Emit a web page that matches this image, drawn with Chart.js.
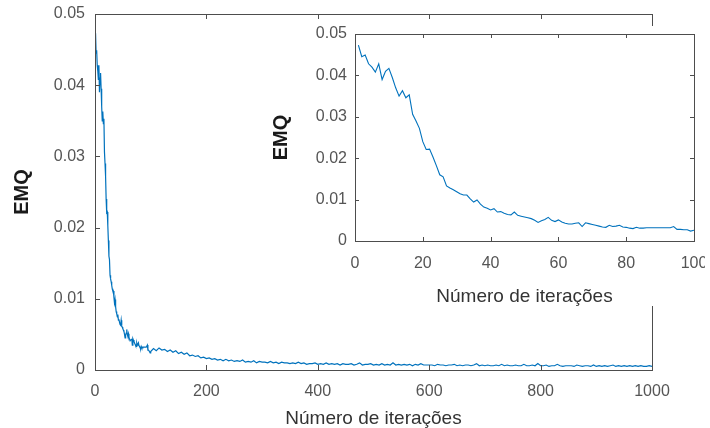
<!DOCTYPE html>
<html>
<head>
<meta charset="utf-8">
<title>EMQ</title>
<script src="https://cdn.jsdelivr.net/npm/chart.js@4.4.1/dist/chart.umd.min.js"></script>
<style>
  body { margin: 0; background: #fff; }
  #wrap { position: relative; width: 710px; height: 428px; overflow: hidden; }
  #mainChart { position: absolute; left: 0; top: 0; }
  #insetBox { position: absolute; left: 265px; top: 26px; width: 440px; height: 280px; background: #fff; }
</style>
</head>
<body>
<div id="wrap">
  <canvas id="mainChart" width="710" height="428"></canvas>
  <div id="insetBox"><canvas id="insetChart" width="440" height="280"></canvas></div>
</div>
<script>
// EMQ for iterations 1..100
const earlyMse = [
  0.0473, 0.0445, 0.0449, 0.0428, 0.0420, 0.0408, 0.0428, 0.0390, 0.0410, 0.0417,
  0.0395, 0.0370, 0.0350, 0.0363, 0.0346, 0.0353, 0.0306, 0.0290, 0.0272, 0.0240,
  0.0221, 0.0222, 0.0203, 0.0182, 0.0160, 0.0155, 0.0133, 0.0128, 0.0124, 0.0119,
  0.0114, 0.0111, 0.0111, 0.0102, 0.0094, 0.0099, 0.0089, 0.0082, 0.0079, 0.0075,
  0.0078, 0.0070, 0.0071, 0.0067, 0.0064, 0.0063, 0.0070, 0.0062, 0.0060, 0.0058,
  0.0056, 0.0054, 0.0050, 0.0045, 0.0049, 0.0052, 0.0057, 0.0050, 0.0047, 0.0051,
  0.0046, 0.0043, 0.0041, 0.0041, 0.0043, 0.0044, 0.0035, 0.0044, 0.0042, 0.0040,
  0.0038, 0.0036, 0.0034, 0.0033, 0.0038, 0.0035, 0.0036, 0.0038, 0.0034, 0.0033,
  0.0031, 0.0030, 0.0033, 0.0031, 0.0031, 0.0032, 0.0032, 0.0032, 0.0032, 0.0032,
  0.0032, 0.0032, 0.0032, 0.0035, 0.0028, 0.0028, 0.0027, 0.0027, 0.0024, 0.0026
];

// EMQ for iterations 105..1000, every 5 iterations
const tailMse = [
  0.0030, 0.0027, 0.0031, 0.0028, 0.0029, 0.0026, 0.0028, 0.0025, 0.0027, 0.0023,
  0.0025, 0.0022, 0.0024, 0.0020, 0.0021, 0.0019, 0.0020, 0.0017, 0.0018, 0.0016,
  0.0017, 0.0015, 0.0016, 0.0014, 0.0015, 0.0013, 0.0015, 0.0013, 0.0014, 0.0012,
  0.0013, 0.0012, 0.0014, 0.0011, 0.0012, 0.0011, 0.0013, 0.0010, 0.0012, 0.0011,
  0.0011, 0.0010, 0.0012, 0.0010, 0.0011, 0.0009, 0.0011, 0.0010, 0.0010, 0.0009,
  0.0010, 0.0009, 0.0011, 0.0009, 0.0010, 0.0008, 0.0009, 0.0009, 0.0010, 0.0008,
  0.0009, 0.0008, 0.0010, 0.0008, 0.0009, 0.0008, 0.0009, 0.0007, 0.0009, 0.0008,
  0.0008, 0.0009, 0.0007, 0.0008, 0.0010, 0.0007, 0.0008, 0.0008, 0.0009, 0.0007,
  0.0008, 0.0007, 0.0009, 0.0007, 0.0008, 0.0007, 0.0010, 0.0007, 0.0008, 0.0007,
  0.0008, 0.0007, 0.0008, 0.0006, 0.0008, 0.0007, 0.0009, 0.0007, 0.0007, 0.0007,
  0.0007, 0.0006, 0.0008, 0.0007, 0.0007, 0.0006, 0.0007, 0.0007, 0.0008, 0.0006,
  0.0007, 0.0006, 0.0007, 0.0007, 0.0006, 0.0007, 0.0009, 0.0006, 0.0007, 0.0006,
  0.0007, 0.0006, 0.0006, 0.0007, 0.0006, 0.0008, 0.0006, 0.0007, 0.0006, 0.0006,
  0.0007, 0.0006, 0.0006, 0.0008, 0.0006, 0.0006, 0.0007, 0.0006, 0.0009, 0.0006,
  0.0006, 0.0007, 0.0005, 0.0006, 0.0006, 0.0008, 0.0006, 0.0005, 0.0006, 0.0006,
  0.0006, 0.0005, 0.0007, 0.0006, 0.0005, 0.0006, 0.0006, 0.0005, 0.0007, 0.0005,
  0.0006, 0.0005, 0.0006, 0.0005, 0.0006, 0.0007, 0.0005, 0.0006, 0.0005, 0.0006,
  0.0005, 0.0006, 0.0005, 0.0006, 0.0005, 0.0006, 0.0005, 0.0005, 0.0006, 0.0005
];

const mainXTicks = [0, 200, 400, 600, 800, 1000];
const insetXTicks = [0, 20, 40, 60, 80, 100];
const yTicks = [0, 0.01, 0.02, 0.03, 0.04, 0.05];

const xLabel = 'Número de iterações';
const yLabel = 'EMQ';

const lineColor = '#0072BD';
const axisColor = '#4d4d4d';
const tickColor = '#555555';
const fontFamily = '"Liberation Sans", Arial, Helvetica, sans-serif';

const earlyPoints = earlyMse.map((v, i) => ({ x: i + 1, y: v }));
const tailPoints = tailMse.map((v, i) => ({ x: 105 + 5 * i, y: v }));

// box around the plot area with inward ticks, matlab style
const frameTicks = {
  id: 'frameTicks',
  afterDraw(chart, args, opts) {
    const { ctx, chartArea: a, scales: { x, y } } = chart;
    const len = opts.len;
    ctx.save();
    ctx.strokeStyle = axisColor;
    ctx.lineWidth = 1;
    ctx.strokeRect(a.left + 0.5, a.top + 0.5, a.right - a.left, a.bottom - a.top);
    ctx.beginPath();
    x.ticks.forEach(t => {
      const px = Math.round(x.getPixelForValue(t.value)) + 0.5;
      ctx.moveTo(px, a.bottom); ctx.lineTo(px, a.bottom - len);
      ctx.moveTo(px, a.top); ctx.lineTo(px, a.top + len);
    });
    y.ticks.forEach(t => {
      const py = Math.round(y.getPixelForValue(t.value)) + 0.5;
      ctx.moveTo(a.left, py); ctx.lineTo(a.left + len, py);
      ctx.moveTo(a.right, py); ctx.lineTo(a.right - len, py);
    });
    ctx.stroke();
    ctx.restore();
  }
};

function makeOptions(cfg) {
  return {
    responsive: false,
    animation: false,
    devicePixelRatio: 1,
    layout: { padding: cfg.padding },
    plugins: {
      legend: { display: false },
      tooltip: { enabled: false },
      frameTicks: { len: cfg.tickLen }
    },
    scales: {
      x: {
        type: 'linear',
        min: cfg.xTicks[0],
        max: cfg.xTicks[cfg.xTicks.length - 1],
        afterBuildTicks: s => { s.ticks = cfg.xTicks.map(v => ({ value: v })); },
        // fixed box, no extra room for end labels
        afterFit: s => { s.height = cfg.xHeight; s.paddingLeft = 0; s.paddingRight = 0; },
        grid: { display: false, drawTicks: false },
        border: { display: false },
        ticks: {
          color: tickColor, padding: cfg.xTickPad, maxRotation: 0,
          font: { family: fontFamily, size: 16 },
          callback: v => String(v)
        },
        title: {
          display: true, text: xLabel, color: '#333333',
          font: { family: fontFamily, size: 19, lineHeight: 1 },
          padding: { top: cfg.xTitlePad, bottom: 0 }
        }
      },
      y: {
        type: 'linear',
        min: 0,
        max: 0.05,
        afterBuildTicks: s => { s.ticks = yTicks.map(v => ({ value: v })); },
        afterFit: s => { s.width = cfg.yWidth; s.paddingTop = 0; s.paddingBottom = 0; },
        grid: { display: false, drawTicks: false },
        border: { display: false },
        ticks: {
          color: tickColor, padding: cfg.yTickPad,
          font: { family: fontFamily, size: 16 },
          callback: v => (v === 0 ? '0' : v.toFixed(2))
        },
        title: {
          display: true, text: yLabel, color: '#1a1a1a',
          font: { family: fontFamily, size: 20, weight: 'bold', lineHeight: 1 },
          padding: { top: cfg.yTitlePad, bottom: 0 }
        }
      }
    }
  };
}

const lineStyle = {
  borderColor: lineColor,
  borderWidth: 1.2,
  pointRadius: 0,
  tension: 0,
  fill: false
};

new Chart(document.getElementById('mainChart'), {
  type: 'line',
  data: { datasets: [{ ...lineStyle, data: earlyPoints.concat(tailPoints) }] },
  options: makeOptions({
    padding: { top: 14, right: 58, left: 0, bottom: 0 },
    xTicks: mainXTicks, xHeight: 58, yWidth: 95,
    xTickPad: 12, yTickPad: 10, xTitlePad: 2.5, yTitlePad: 12, tickLen: 5
  }),
  plugins: [frameTicks]
});

new Chart(document.getElementById('insetChart'), {
  type: 'line',
  data: { datasets: [{ ...lineStyle, borderWidth: 1.1, data: earlyPoints }] },
  options: makeOptions({
    padding: { top: 8, right: 11, left: 0, bottom: 0 },
    xTicks: insetXTicks, xHeight: 65, yWidth: 90,
    xTickPad: 13, yTickPad: 8, xTitlePad: 8, yTitlePad: 6.5, tickLen: 4
  }),
  plugins: [frameTicks]
});
</script>
</body>
</html>
